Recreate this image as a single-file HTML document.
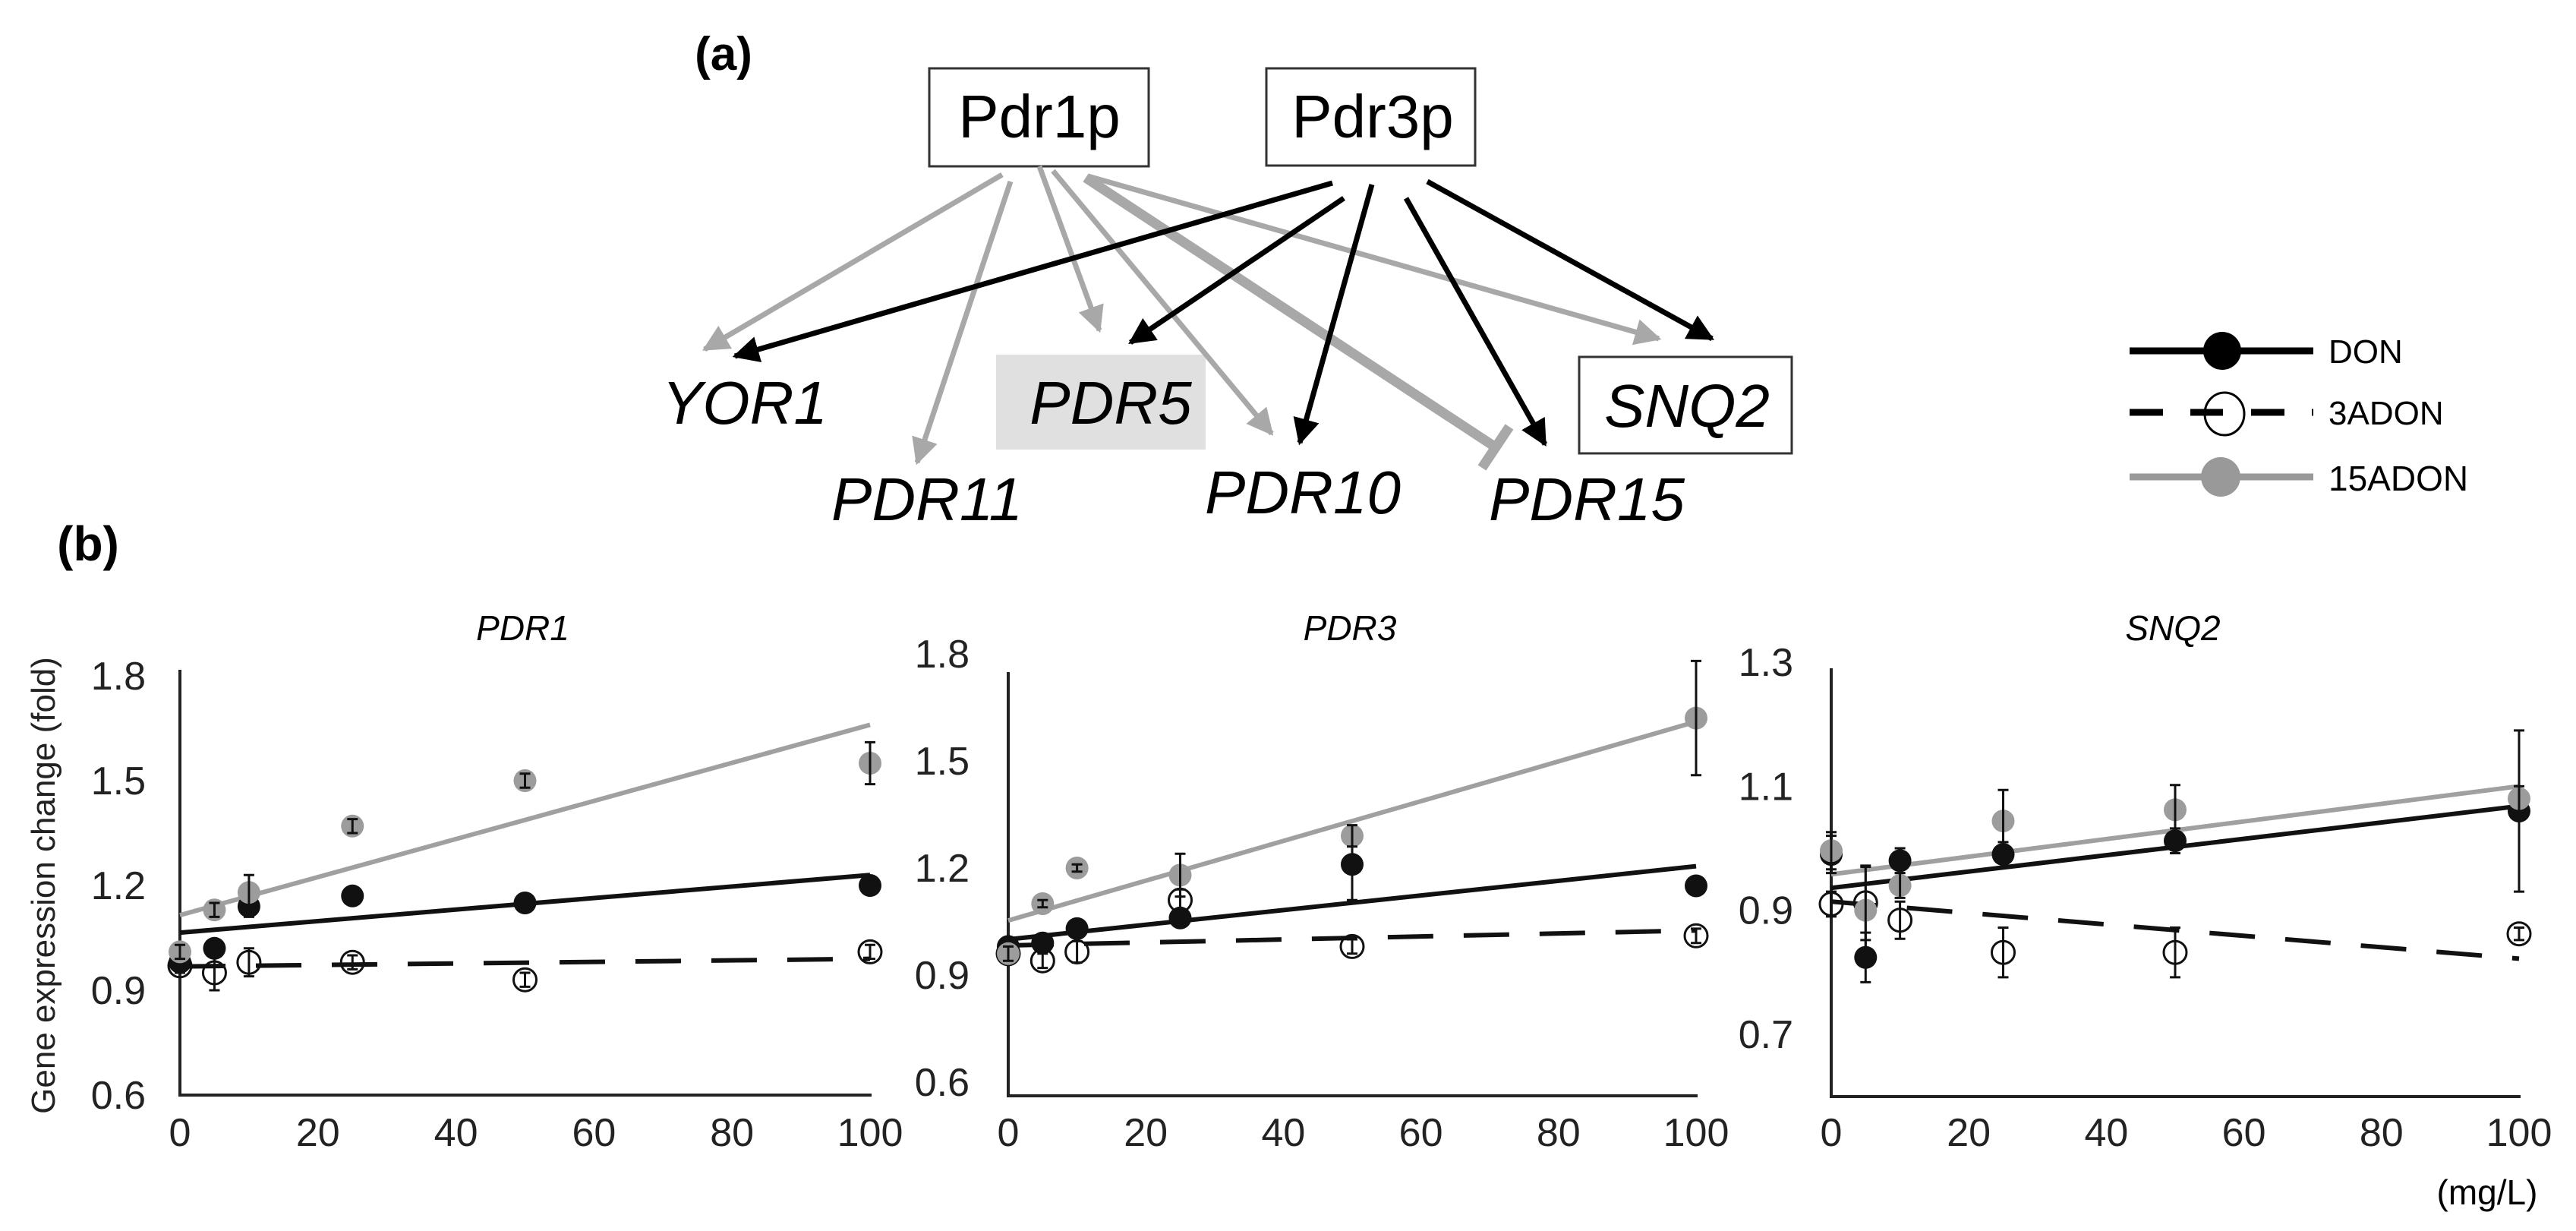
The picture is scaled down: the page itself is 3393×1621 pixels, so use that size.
<!DOCTYPE html>
<html><head><meta charset="utf-8">
<style>
html,body{margin:0;padding:0;background:#fff;}
svg{display:block;font-family:"Liberation Sans",Arial,sans-serif;}
</style></head>
<body>
<svg id="fig" width="3393" height="1621" viewBox="0 0 3393 1621">
<defs>
<marker id="ag" viewBox="0 0 10 10" refX="9" refY="5" markerWidth="5" markerHeight="5" orient="auto-start-reverse" markerUnits="strokeWidth"><path d="M0,0 L10,5 L0,10 z" fill="#a8a8a8"/></marker>
<marker id="ab" viewBox="0 0 10 10" refX="9" refY="5" markerWidth="5" markerHeight="5" orient="auto-start-reverse" markerUnits="strokeWidth"><path d="M0,0 L10,5 L0,10 z" fill="#000"/></marker>
</defs>
<g>
<text x="953" y="92" font-size="62" font-weight="bold" text-anchor="middle">(a)</text>
<rect x="1224" y="90" width="289" height="129" fill="#fff" stroke="#333" stroke-width="3"/>
<text x="1369" y="181" font-size="80" text-anchor="middle">Pdr1p</text>
<rect x="1668" y="90" width="275" height="128" fill="#fff" stroke="#333" stroke-width="3"/>
<text x="1808" y="181" font-size="80" text-anchor="middle">Pdr3p</text>
<rect x="1312" y="467" width="276" height="125" fill="#e0e0e0"/>
<rect x="2080" y="470" width="280" height="127" fill="#fff" stroke="#333" stroke-width="3"/>
<g font-size="80" font-style="italic" text-anchor="middle">
<text x="981" y="558">YOR1</text>
<text x="1221" y="685">PDR11</text>
<text x="1463" y="558">PDR5</text>
<text x="1716" y="676">PDR10</text>
<text x="2090" y="685">PDR15</text>
<text x="2222" y="562">SNQ2</text>
</g>
<g stroke="#a8a8a8" stroke-width="7" fill="none">
<line x1="1320" y1="230" x2="928" y2="460" marker-end="url(#ag)"/>
<line x1="1331" y1="239" x2="1208" y2="609" marker-end="url(#ag)"/>
<line x1="1369" y1="219" x2="1448" y2="435" marker-end="url(#ag)"/>
<line x1="1387" y1="225" x2="1675" y2="571" marker-end="url(#ag)"/>
<line x1="1433" y1="232" x2="2185" y2="446" marker-end="url(#ag)"/>
<line x1="1430" y1="234" x2="1970" y2="589" stroke-width="13"/>
<line x1="1952" y1="616" x2="1988" y2="562" stroke-width="13"/>
</g>
<g stroke="#000" stroke-width="7" fill="none">
<line x1="1755" y1="241" x2="968" y2="469" marker-end="url(#ab)"/>
<line x1="1770" y1="261" x2="1489" y2="451" marker-end="url(#ab)"/>
<line x1="1807" y1="243" x2="1712" y2="583" marker-end="url(#ab)"/>
<line x1="1852" y1="261" x2="2035" y2="585" marker-end="url(#ab)"/>
<line x1="1880" y1="239" x2="2255" y2="446" marker-end="url(#ab)"/>
</g>
</g>
<g>
<g>
<line x1="2805" y1="462" x2="3047" y2="462" stroke="#000" stroke-width="9"/>
<circle cx="2927" cy="462" r="25" fill="#000"/>
<text x="3067" y="478" font-size="44">DON</text>
</g>
<g>
<line x1="2805" y1="543" x2="3047" y2="543" stroke="#000" stroke-width="9" stroke-dasharray="44,36"/>
<ellipse cx="2930" cy="545" rx="26" ry="28" fill="#fff" stroke="#000" stroke-width="3"/>
<line x1="2885" y1="543" x2="2928" y2="543" stroke="#000" stroke-width="9"/>
<text x="3067" y="559" font-size="44">3ADON</text>
</g>
<g>
<line x1="2805" y1="628" x2="3047" y2="628" stroke="#999" stroke-width="9"/>
<circle cx="2925" cy="628" r="26" fill="#999"/>
<text x="3067" y="646" font-size="46">15ADON</text>
</g>
</g>
<text x="116" y="738" font-size="64" font-weight="bold" text-anchor="middle">(b)</text>
<text transform="translate(72,1166) rotate(-90)" font-size="44" text-anchor="middle" fill="#222">Gene expression change (fold)</text>
<text x="3276" y="1586" font-size="46" text-anchor="middle">(mg/L)</text>
<g id="charts"></g>
</svg>
<script>
const doses = [0, 5, 10, 25, 50, 100];
const xTicks = [0, 20, 40, 60, 80, 100];
const chartTitles = ["PDR1", "PDR3", "SNQ2"];

const pdr1Don = [0.98, 1.02, 1.14, 1.17, 1.15, 1.20];
const pdr1DonErr = [0.02, 0.02, 0.03, 0.02, 0.01, 0.01];
const pdr1Adon3 = [0.97, 0.95, 0.98, 0.98, 0.93, 1.01];
const pdr1Adon3Err = [0.02, 0.05, 0.04, 0.02, 0.02, 0.02];
const pdr1Adon15 = [1.01, 1.13, 1.18, 1.37, 1.50, 1.55];
const pdr1Adon15Err = [0.02, 0.02, 0.05, 0.02, 0.02, 0.06];
const pdr1DonFit = [1.065, 1.23];
const pdr1Adon3Fit = [0.968, 0.99];
const pdr1Adon15Fit = [1.115, 1.66];
const pdr1YTicks = [0.6, 0.9, 1.2, 1.5, 1.8];

const pdr3Don = [0.98, 0.99, 1.03, 1.06, 1.21, 1.15];
const pdr3DonErr = [0.02, 0.02, 0.02, 0.02, 0.10, 0.02];
const pdr3Adon3 = [0.96, 0.94, 0.965, 1.11, 0.98, 1.01];
const pdr3Adon3Err = [0.02, 0.02, 0.03, 0.03, 0.02, 0.02];
const pdr3Adon15 = [0.96, 1.10, 1.20, 1.18, 1.29, 1.62];
const pdr3Adon15Err = [0.02, 0.01, 0.01, 0.06, 0.03, 0.16];
const pdr3DonFit = [1.00, 1.205];
const pdr3Adon3Fit = [0.983, 1.025];
const pdr3Adon15Fit = [1.053, 1.61];
const pdr3YTicks = [0.6, 0.9, 1.2, 1.5, 1.8];

const snq2Don = [0.99, 0.824, 0.98, 0.99, 1.012, 1.06];
const snq2DonErr = [0.03, 0.04, 0.02, 0.02, 0.02, 0.13];
const snq2Adon3 = [0.91, 0.912, 0.884, 0.832, 0.832, 0.862];
const snq2Adon3Err = [0.02, 0.06, 0.03, 0.04, 0.04, 0.01];
const snq2Adon15 = [0.996, 0.90, 0.94, 1.044, 1.062, 1.08];
const snq2Adon15Err = [0.03, 0.07, 0.02, 0.05, 0.04, 0.02];
const snq2DonFit = [0.936, 1.068];
const snq2Adon3Fit = [0.914, 0.822];
const snq2Adon15Fit = [0.958, 1.10];
const snq2YTicks = [0.7, 0.9, 1.1, 1.3];

const NS = "http://www.w3.org/2000/svg";
const root = document.getElementById("charts");
function mk(tag, attrs, parent) {
  const e = document.createElementNS(NS, tag);
  for (const k in attrs) e.setAttribute(k, attrs[k]);
  parent.appendChild(e);
  return e;
}

const panels = [
  {key:"pdr1", x0:237, x1:1146, vTop:1.8, yTop:890, vBot:0.6, yBot:1442, axTop:882, axBot:1442, axRight:1148, labRight:192,
   don:pdr1Don, donErr:pdr1DonErr, a3:pdr1Adon3, a3Err:pdr1Adon3Err, a15:pdr1Adon15, a15Err:pdr1Adon15Err,
   donFit:pdr1DonFit, a3Fit:pdr1Adon3Fit, a15Fit:pdr1Adon15Fit, yTicks:pdr1YTicks},
  {key:"pdr3", x0:1328, x1:2234, vTop:1.8, yTop:861, vBot:0.6, yBot:1425, axTop:885, axBot:1443, axRight:2236, labRight:1277,
   don:pdr3Don, donErr:pdr3DonErr, a3:pdr3Adon3, a3Err:pdr3Adon3Err, a15:pdr3Adon15, a15Err:pdr3Adon15Err,
   donFit:pdr3DonFit, a3Fit:pdr3Adon3Fit, a15Fit:pdr3Adon15Fit, yTicks:pdr3YTicks},
  {key:"snq2", x0:2412, x1:3318, vTop:1.3, yTop:872, vBot:0.7, yBot:1362, axTop:880, axBot:1444, axRight:3320, labRight:2362,
   don:snq2Don, donErr:snq2DonErr, a3:snq2Adon3, a3Err:snq2Adon3Err, a15:snq2Adon15, a15Err:snq2Adon15Err,
   donFit:snq2DonFit, a3Fit:snq2Adon3Fit, a15Fit:snq2Adon15Fit, yTicks:snq2YTicks}
];

panels.forEach(function(p, pi) {
  const xs = function(d){ return p.x0 + (d - 0) / 100 * (p.x1 - p.x0); };
  const ys = function(v){ return p.yBot + (v - p.vBot) / (p.vTop - p.vBot) * (p.yTop - p.yBot); };
  const g = mk("g", {}, root);
  
  

  const title = mk("text", {x:(p.x0+p.x1)/2 - 3, y:843, "font-size":46, "font-style":"italic", "text-anchor":"middle"}, g);
  title.textContent = chartTitles[pi];
  
  

  const ax = mk("path", {d:"M"+p.x0+","+p.axTop+" L"+p.x0+","+p.axBot+" L"+p.axRight+","+p.axBot, fill:"none", stroke:"#222", "stroke-width":4}, g);
  
  

  p.yTicks.forEach(function(v) {
    const t = mk("text", {x:p.labRight, y:ys(v)+18, "font-size":52, "text-anchor":"end", fill:"#222"}, g);
    t.textContent = v.toFixed(1);
    
    
  });
  xTicks.forEach(function(d) {
    const t = mk("text", {x:xs(d), y:1509, "font-size":52, "text-anchor":"middle", fill:"#222"}, g);
    t.textContent = String(d);
    
    
  });

  const fits = [
    {f:p.a15Fit, c:"#a0a0a0", dash:null, n:"trend-15adon"},
    {f:p.donFit, c:"#111", dash:null, n:"trend-don"},
    {f:p.a3Fit, c:"#111", dash:"60,40", n:"trend-3adon"}
  ];
  fits.forEach(function(o) {
    const l = mk("line", {x1:xs(0), y1:ys(o.f[0]), x2:xs(100), y2:ys(o.f[1]), stroke:o.c, "stroke-width":6}, g);
    if (o.dash) l.setAttribute("stroke-dasharray", o.dash);
    
    
  });

  const series = [
    {v:p.don, e:p.donErr, fill:"#111", stroke:"none", n:"point-don"},
    {v:p.a3, e:p.a3Err, fill:"none", stroke:"#111", n:"point-3adon"},
    {v:p.a15, e:p.a15Err, fill:"#9c9c9c", stroke:"none", n:"point-15adon"}
  ];
  series.forEach(function(s) {
    doses.forEach(function(d, i) {
      const cx = xs(d), cy = ys(s.v[i]);
      const c = mk("circle", {cx:cx, cy:cy, r:15, fill:s.fill, stroke:s.stroke, "stroke-width":3}, g);
      
      
      const top = ys(s.v[i] + s.e[i]), bot = ys(s.v[i] - s.e[i]);
      const eb = mk("path", {d:"M"+cx+","+top+" L"+cx+","+bot+" M"+(cx-7)+","+top+" L"+(cx+7)+","+top+" M"+(cx-7)+","+bot+" L"+(cx+7)+","+bot, stroke:"#111", "stroke-width":3, fill:"none"}, g);
      
      
    });
  });
});
</script>
</body></html>
